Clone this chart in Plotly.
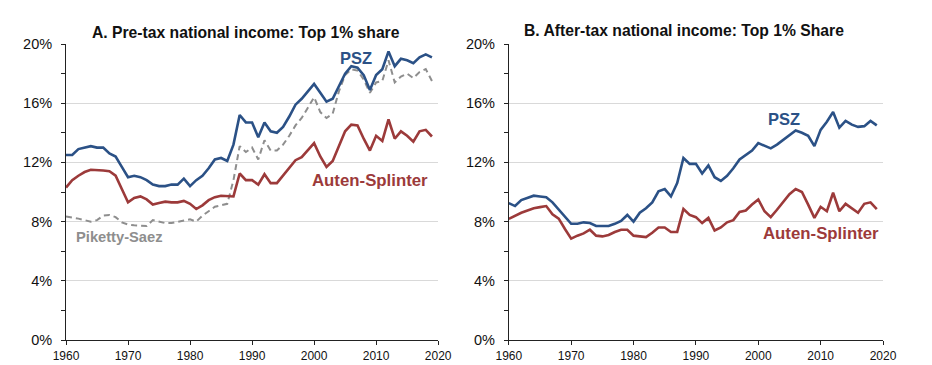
import plotly.graph_objects as go

years = list(range(1960, 2020))

pre_psz = [12.5, 12.5, 12.9, 13.0, 13.1, 13.0, 13.0, 12.6, 12.4, 11.7,
           11.0, 11.1, 11.0, 10.8, 10.5, 10.4, 10.4, 10.5, 10.5, 10.9,
           10.4, 10.8, 11.1, 11.6, 12.2, 12.3, 12.1, 13.2, 15.2, 14.7,
           14.7, 13.7, 14.7, 14.1, 14.0, 14.4, 15.1, 15.9, 16.3, 16.8,
           17.3, 16.7, 16.1, 16.3, 17.1, 18.0, 18.5, 18.4, 17.9, 16.9,
           17.9, 18.3, 19.5, 18.5, 19.0, 18.9, 18.7, 19.1, 19.3, 19.1]

pre_ps = [8.35, 8.3, 8.2, 8.1, 8.0, 8.1, 8.4, 8.45, 8.3, 7.95,
          7.8, 7.75, 7.75, 7.7, 8.1, 8.0, 7.9, 7.9, 8.0, 8.1,
          8.15, 8.0, 8.4, 8.7, 9.0, 9.1, 9.2, 10.8, 13.1, 12.7,
          13.0, 12.2, 13.5, 12.8, 12.8, 13.2, 13.8, 14.5, 15.0, 15.7,
          16.4, 15.4, 15.0, 15.3, 16.8, 17.9, 18.3, 18.2, 17.6, 16.7,
          17.4, 17.5, 18.9, 17.4, 17.8, 18.0, 17.7, 18.1, 18.3, 17.5]

pre_as = [10.3, 10.8, 11.1, 11.35, 11.5, 11.5, 11.45, 11.4, 11.1, 10.2,
          9.3, 9.6, 9.7, 9.5, 9.15, 9.25, 9.35, 9.3, 9.3, 9.4,
          9.2, 8.85, 9.1, 9.45, 9.65, 9.75, 9.75, 9.7, 11.25, 10.8,
          10.8, 10.5, 11.2, 10.6, 10.6, 11.1, 11.6, 12.15, 12.35, 12.8,
          13.3, 12.4, 11.7, 12.1, 13.1, 14.1, 14.55, 14.5, 13.6, 12.8,
          13.8, 13.45, 14.9, 13.6, 14.1, 13.8, 13.4, 14.1, 14.2, 13.75]

post_psz = [9.25, 9.05, 9.45, 9.6, 9.75, 9.7, 9.65, 9.3, 8.8, 8.3,
            7.85, 7.85, 7.95, 7.9, 7.7, 7.7, 7.7, 7.85, 8.05, 8.45,
            8.0, 8.6, 8.9, 9.3, 10.05, 10.2, 9.7, 10.6, 12.3, 11.9,
            11.9, 11.25, 11.8, 11.0, 10.75, 11.1, 11.6, 12.2, 12.5, 12.8,
            13.3, 13.1, 12.95, 13.2, 13.5, 13.85, 14.15, 14.0, 13.8, 13.1,
            14.2, 14.75, 15.4, 14.35, 14.8, 14.55, 14.4, 14.45, 14.8, 14.5]

post_as = [8.18, 8.4, 8.6, 8.75, 8.9, 8.98, 9.05, 8.5, 8.2, 7.5,
           6.85, 7.05, 7.2, 7.45, 7.05, 7.0, 7.1, 7.3, 7.45, 7.45,
           7.05, 7.0, 6.95, 7.25, 7.6, 7.6, 7.3, 7.3, 8.85, 8.45,
           8.3, 7.9, 8.25, 7.4, 7.6, 7.95, 8.1, 8.65, 8.75, 9.15,
           9.5, 8.7, 8.3, 8.8, 9.3, 9.85, 10.2, 10.0, 9.15, 8.25,
           9.0, 8.7, 9.95, 8.7, 9.2, 8.9, 8.6, 9.2, 9.3, 8.85]

y_ticks = [0, 4, 8, 12, 16, 20]
y_labels = ["0%", "4%", "8%", "12%", "16%", "20%"]
x_ticks = [1960, 1970, 1980, 1990, 2000, 2010, 2020]

BLUE = "#2B5186"
RED = "#9C3A3A"
GRAY = "#8E8E8E"
FONT = "Liberation Sans, Arial, sans-serif"

fig = go.Figure()
fig.add_trace(go.Scatter(x=years, y=pre_ps, mode="lines", line=dict(color=GRAY, width=2, dash="6px,4px"),
                         xaxis="x", yaxis="y", showlegend=False))
fig.add_trace(go.Scatter(x=years, y=pre_as, mode="lines", line=dict(color=RED, width=2.6),
                         xaxis="x", yaxis="y", showlegend=False))
fig.add_trace(go.Scatter(x=years, y=pre_psz, mode="lines", line=dict(color=BLUE, width=2.6),
                         xaxis="x", yaxis="y", showlegend=False))
fig.add_trace(go.Scatter(x=years, y=post_as, mode="lines", line=dict(color=RED, width=2.6),
                         xaxis="x2", yaxis="y2", showlegend=False))
fig.add_trace(go.Scatter(x=years, y=post_psz, mode="lines", line=dict(color=BLUE, width=2.6),
                         xaxis="x2", yaxis="y2", showlegend=False))

xcommon = dict(range=[1960, 2020], tickvals=x_ticks, showline=True, linecolor="#222", linewidth=1,
               ticks="outside", ticklen=4, tickcolor="#222", showgrid=False, zeroline=False,
               ticklabelstandoff=1, automargin=False,
               tickfont=dict(family=FONT, size=12, color="#111"))
ycommon = dict(range=[0, 20], tickvals=y_ticks, ticktext=y_labels, showline=True, linecolor="#222",
               linewidth=1, ticks="outside", ticklen=4, tickcolor="#222", showgrid=True,
               gridcolor="#D9D9D9", gridwidth=1, zeroline=False, ticklabelstandoff=6, automargin=False,
               minor=dict(tickvals=[2, 6, 10, 14, 18], ticks="outside", ticklen=4, tickcolor="#222", showgrid=False),
               tickfont=dict(family=FONT, size=14.5, color="#111"))

# page body adds an 8px offset; margins compensate
fig.update_layout(
    width=932, height=365,
    margin=dict(l=58, r=57.3, t=36, b=33),
    paper_bgcolor="white", plot_bgcolor="white",
    xaxis=dict(domain=[0, 0.4555], anchor="y", **xcommon),
    yaxis=dict(domain=[0, 1], anchor="x", **ycommon),
    xaxis2=dict(domain=[0.542, 1], anchor="y2", **xcommon),
    yaxis2=dict(domain=[0, 1], anchor="x2", **ycommon),
    font=dict(family=FONT),
)

anns = [
    dict(x=(246 - 66) / 816.7, y=1.0, xref="paper", yref="paper", xanchor="center",
         text="<b>A. Pre-tax national income: Top 1% share</b>",
         showarrow=False, yanchor="bottom", yshift=1, font=dict(family=FONT, size=15.7, color="#111")),
    dict(x=(683.5 - 66) / 816.7, y=1.0, xref="paper", yref="paper", xanchor="center",
         text="<b>B. After-tax national income: Top 1% Share</b>",
         showarrow=False, yanchor="bottom", yshift=3, font=dict(family=FONT, size=15.7, color="#111")),
    dict(x=2006.8, y=19.07, xref="x", yref="y", text="<b>PSZ</b>", showarrow=False,
         font=dict(family=FONT, size=16.5, color=BLUE)),
    dict(x=2009.0, y=10.78, xref="x", yref="y", text="<b>Auten-Splinter</b>", showarrow=False,
         font=dict(family=FONT, size=16.8, color=RED)),
    dict(x=1968.66, y=6.96, xref="x", yref="y", text="<b>Piketty-Saez</b>", showarrow=False,
         font=dict(family=FONT, size=14.7, color=GRAY)),
    dict(x=2004.17, y=14.95, xref="x2", yref="y2", text="<b>PSZ</b>", showarrow=False,
         font=dict(family=FONT, size=16.5, color=BLUE)),
    dict(x=2010.0, y=7.23, xref="x2", yref="y2", text="<b>Auten-Splinter</b>", showarrow=False,
         font=dict(family=FONT, size=16.8, color=RED)),
]
fig.update_layout(annotations=anns)

fig.write_html("out.html")
